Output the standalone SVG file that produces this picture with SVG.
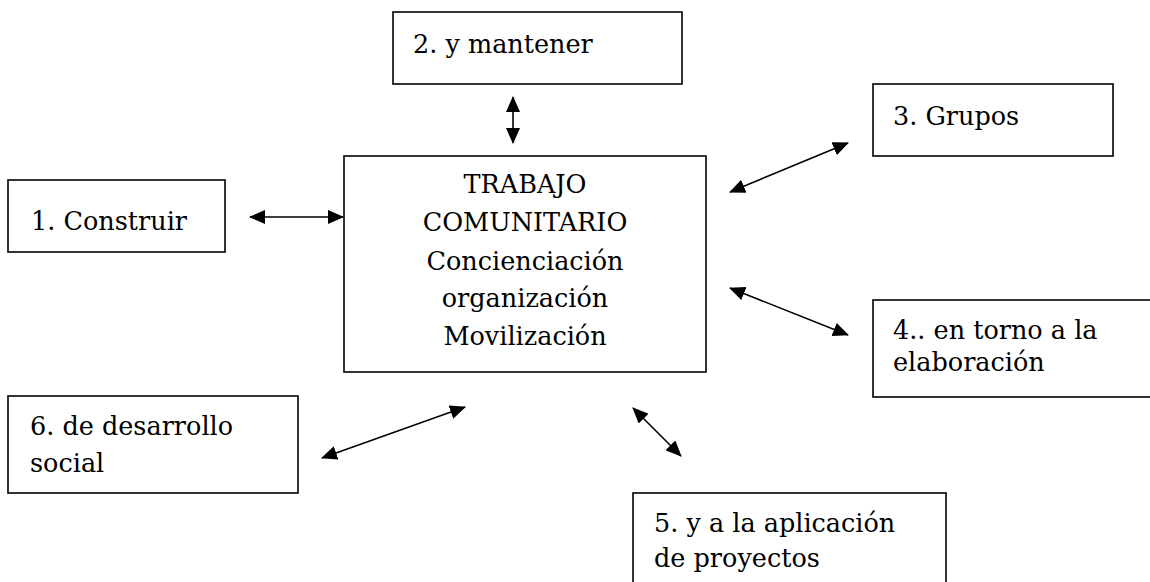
<svg xmlns="http://www.w3.org/2000/svg" width="1150" height="582" viewBox="0 0 1150 582">
<style>
.box{fill:#fff;stroke:#000;stroke-width:1.6}
.t{font-family:'DejaVu Serif',serif;font-size:25.5px;fill:#000}
.c{text-anchor:middle}
.con{stroke:#000;stroke-width:1.6;fill:none;marker-start:url(#ah);marker-end:url(#ah)}
</style>
<defs>
<marker id="ah" viewBox="0 0 16 14" refX="15" refY="7" markerWidth="16" markerHeight="14" markerUnits="userSpaceOnUse" orient="auto-start-reverse">
<path d="M0,0 L16,7 L0,14 Z" fill="#000"/>
</marker>
</defs>
<rect width="1150" height="582" fill="#fff"/>
<g id="center">
<rect class="box" x="344" y="156" width="362" height="216"/>
<text class="t c" x="525" y="193">TRABAJO</text>
<text class="t c" x="525" y="231">COMUNITARIO</text>
<text class="t c" x="525" y="270">Concienciación</text>
<text class="t c" x="525" y="307">organización</text>
<text class="t c" x="525" y="345">Movilización</text>
</g>
<g id="n1">
<rect class="box" x="8" y="180" width="217" height="72"/>
<text class="t" x="31" y="230">1. Construir</text>
</g>
<g id="n2">
<rect class="box" x="393" y="12" width="289" height="72"/>
<text class="t" x="413" y="53">2. y mantener</text>
</g>
<g id="n3">
<rect class="box" x="873" y="84" width="240" height="72"/>
<text class="t" x="893" y="125">3. Grupos</text>
</g>
<g id="n4">
<rect class="box" x="873" y="300" width="300" height="97"/>
<text class="t" x="893" y="339">4.. en torno a la</text>
<text class="t" x="893" y="371">elaboración</text>
</g>
<g id="n5">
<rect class="box" x="633" y="493" width="313" height="120"/>
<text class="t" x="654" y="532">5. y a la aplicación</text>
<text class="t" x="654" y="567">de proyectos</text>
</g>
<g id="n6">
<rect class="box" x="8" y="396" width="290" height="97"/>
<text class="t" x="30" y="435">6. de desarrollo</text>
<text class="t" x="30" y="472">social</text>
</g>
<g id="connectors">
<line class="con" x1="250" y1="217" x2="343" y2="217"/>
<line class="con" x1="513" y1="97" x2="513" y2="143"/>
<line class="con" x1="730" y1="192" x2="848" y2="143"/>
<line class="con" x1="730" y1="288" x2="848" y2="335"/>
<line class="con" x1="633" y1="408" x2="681" y2="456"/>
<line class="con" x1="322" y1="458" x2="465" y2="407"/>
</g>
</svg>
